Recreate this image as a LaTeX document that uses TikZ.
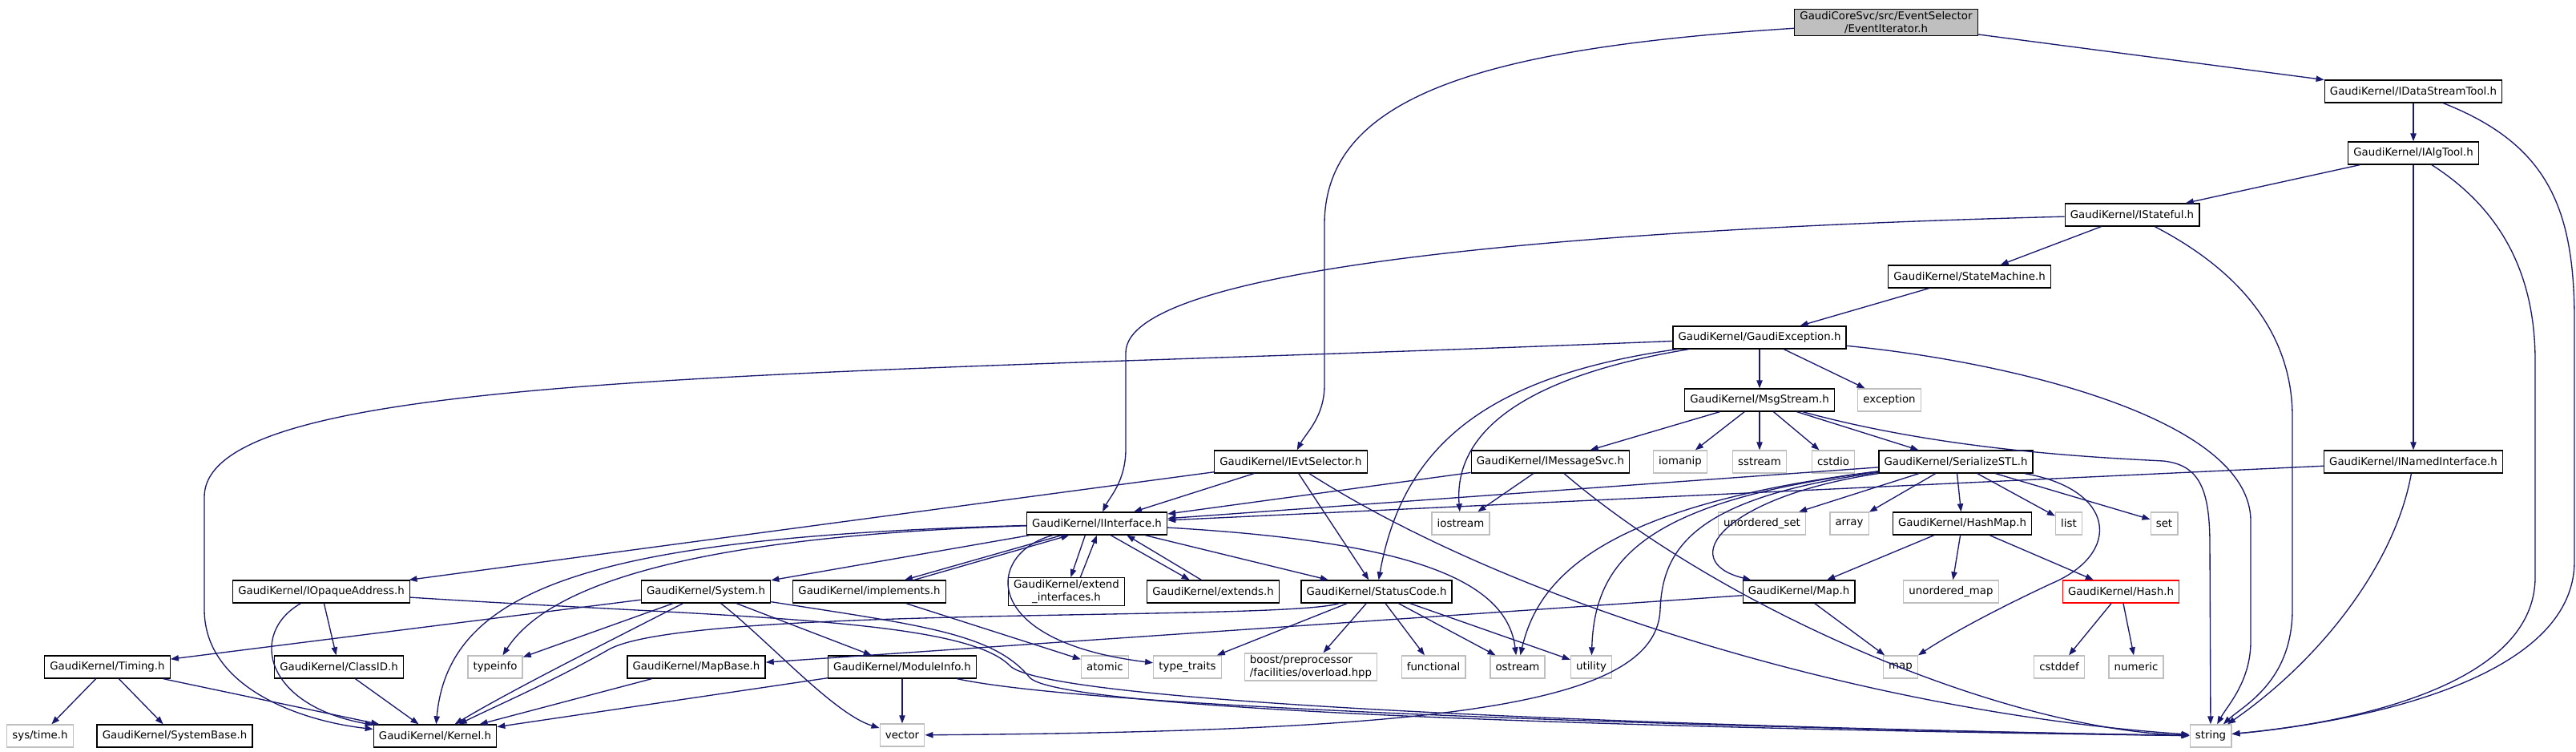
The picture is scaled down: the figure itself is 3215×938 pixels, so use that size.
\documentclass[tikz,border=0pt]{standalone}
\usepackage{fontspec}
\setmainfont{DejaVu Sans}
\usetikzlibrary{arrows.meta}
\definecolor{edgeblue}{HTML}{191970}
\definecolor{lgray}{HTML}{BFBFBF}
\begin{document}
\begin{tikzpicture}[x=0.75pt, y=-0.75pt, every node/.style={font=\fontsize{10}{12}\selectfont}]
  \tikzstyle{hdr}=[draw,fill=white,line width=1pt,inner xsep=5pt,inner ysep=2pt,minimum height=21pt,align=center]
  \tikzstyle{syshdr}=[hdr,draw=lgray]
  \tikzstyle{curhdr}=[hdr,fill=lgray]
  \tikzstyle{redhdr}=[hdr,draw=red]
  \tikzstyle{dep}=[draw=edgeblue,line width=1pt,-{Triangle[length=7.5pt,width=5.5pt]}]
  \useasboundingbox (0,0) rectangle (3215,938);
  % rows, top to bottom
  \node[curhdr] (evit) at (2354,28) {GaudiCoreSvc/src/EventSelector\\/EventIterator.h};
  \node[hdr] (idst) at (3012,114) {GaudiKernel/IDataStreamTool.h};
  \node[hdr] (ialg) at (3012,191) {GaudiKernel/IAlgTool.h};
  \node[hdr] (istf) at (2661,268) {GaudiKernel/IStateful.h};
  \node[hdr] (stm) at (2458,345) {GaudiKernel/StateMachine.h};
  \node[hdr] (gexc) at (2196,421) {GaudiKernel/GaudiException.h};
  \node[hdr] (msgs) at (2196,499) {GaudiKernel/MsgStream.h};
  \node[syshdr] (exc) at (2358,499) {exception};
  \node[hdr] (ievt) at (1611,576) {GaudiKernel/IEvtSelector.h};
  \node[hdr] (imsg) at (1935,576) {GaudiKernel/IMessageSvc.h};
  \node[syshdr] (iomanip) at (2097,576) {iomanip};
  \node[syshdr] (sstream) at (2196,576) {sstream};
  \node[syshdr] (cstdio) at (2288,576) {cstdio};
  \node[hdr] (sstl) at (2441,576) {GaudiKernel/SerializeSTL.h};
  \node[hdr] (inam) at (3012,576) {GaudiKernel/INamedInterface.h};
  \node[hdr] (iint) at (1369,653) {GaudiKernel/IInterface.h};
  \node[syshdr] (iostream) at (1823,653) {iostream};
  \node[syshdr] (uset) at (2199,653) {unordered\_set};
  \node[syshdr] (array) at (2308,653) {array};
  \node[hdr] (hmap) at (2449,653) {GaudiKernel/HashMap.h};
  \node[syshdr] (list) at (2582,653) {list};
  \node[syshdr] (set) at (2701,653) {set};
  \node[hdr] (iopq) at (401,738) {GaudiKernel/IOpaqueAddress.h};
  \node[hdr] (systm) at (881,738) {GaudiKernel/System.h};
  \node[hdr] (impl) at (1085,738) {GaudiKernel/implements.h};
  \node[hdr] (extif) at (1331,738) {GaudiKernel/extend\\\_interfaces.h};
  \node[hdr] (exts) at (1514,738) {GaudiKernel/extends.h};
  \node[hdr] (stc) at (1718,738) {GaudiKernel/StatusCode.h};
  \node[hdr] (gmap) at (2245,738) {GaudiKernel/Map.h};
  \node[syshdr] (umap) at (2435,738) {unordered\_map};
  \node[redhdr] (hash) at (2647,738) {GaudiKernel/Hash.h};
  \node[hdr] (timing) at (134,832) {GaudiKernel/Timing.h};
  \node[hdr] (clid) at (423,832) {GaudiKernel/ClassID.h};
  \node[syshdr] (typeinfo) at (618,832) {typeinfo};
  \node[hdr] (mapb) at (869,832) {GaudiKernel/MapBase.h};
  \node[hdr] (modinfo) at (1126,832) {GaudiKernel/ModuleInfo.h};
  \node[syshdr] (atomic) at (1379,832) {atomic};
  \node[syshdr] (ttraits) at (1482,832) {type\_traits};
  \node[syshdr,align=left] (boost) at (1636,832) {boost/preprocessor\\/facilities/overload.hpp};
  \node[syshdr] (functional) at (1789,832) {functional};
  \node[syshdr] (ostream) at (1894,832) {ostream};
  \node[syshdr] (utility) at (1986,832) {utility};
  \node[syshdr] (map) at (2372,832) {map};
  \node[syshdr] (cstddef) at (2570,832) {cstddef};
  \node[syshdr] (numeric) at (2666,832) {numeric};
  \node[syshdr] (systime) at (50,918) {sys/time.h};
  \node[hdr] (sysbase) at (218,918) {GaudiKernel/SystemBase.h};
  \node[hdr] (kernel) at (543,918) {GaudiKernel/Kernel.h};
  \node[syshdr] (vector) at (1126,917) {vector};
  \node[syshdr] (string) at (2759,918) {string};
  % straight includes
  \draw[dep] (evit) -- (idst);
  \draw[dep] (idst) -- (ialg);
  \draw[dep] (ialg) -- (istf);
  \draw[dep] (ialg) -- (inam);
  \draw[dep] (istf) -- (stm);
  \draw[dep] (stm) -- (gexc);
  \draw[dep] (gexc) -- (msgs);
  \draw[dep] (gexc) -- (exc);
  \draw[dep] (msgs) -- (imsg);
  \draw[dep] (msgs) -- (iomanip);
  \draw[dep] (msgs) -- (sstream);
  \draw[dep] (msgs) -- (cstdio);
  \draw[dep] (msgs) -- (sstl);
  \draw[dep] (ievt) -- (iint);
  \draw[dep] (ievt) -- (iopq);
  \draw[dep] (ievt) -- (stc);
  \draw[dep] (imsg) -- (iint);
  \draw[dep] (imsg) -- (iostream);
  \draw[dep] (inam) -- (iint);
  \draw[dep] (sstl) -- (iint);
  \draw[dep] (sstl) -- (uset);
  \draw[dep] (sstl) -- (array);
  \draw[dep] (sstl) -- (hmap);
  \draw[dep] (sstl) -- (list);
  \draw[dep] (sstl) -- (set);
  \draw[dep] (hmap) -- (gmap);
  \draw[dep] (hmap) -- (umap);
  \draw[dep] (hmap) -- (hash);
  \draw[dep] (hash) -- (cstddef);
  \draw[dep] (hash) -- (numeric);
  \draw[dep] (gmap) -- (map);
  \draw[dep] (gmap) -- (mapb);
  \draw[dep] (iint) -- (systm);
  \draw[dep] (iint) -- (stc);
  \draw[dep] ([xshift=-33pt]iint.south) -- ([xshift=33pt]impl.north);
  \draw[dep] ([xshift=42pt]impl.north) -- ([xshift=-26pt]iint.south);
  \draw[dep] ([xshift=-11pt]iint.south) -- ([xshift=4pt]extif.north);
  \draw[dep] ([xshift=13pt]extif.north) -- (iint.south);
  \draw[dep] ([xshift=13pt]iint.south) -- ([xshift=-22pt]exts.north);
  \draw[dep] ([xshift=-11pt]exts.north) -- ([xshift=28pt]iint.south);
  \draw[dep] (impl) -- (atomic);
  \draw[dep] (systm) -- (timing);
  \draw[dep] (systm) -- (typeinfo);
  \draw[dep] (systm) -- (modinfo);
  \draw[dep] (stc) -- (ttraits);
  \draw[dep] (stc) -- (boost);
  \draw[dep] (stc) -- (functional);
  \draw[dep] (stc) -- (ostream);
  \draw[dep] (stc) -- (utility);
  \draw[dep] (iopq) -- (clid);
  \draw[dep] (timing) -- (systime);
  \draw[dep] (timing) -- (sysbase);
  \draw[dep] (timing) -- (kernel);
  \draw[dep] (clid) -- (kernel);
  \draw[dep] (mapb) -- (kernel);
  \draw[dep] (modinfo) -- (kernel);
  \draw[dep] (modinfo) -- (vector);
  % long curved includes
  \draw[dep] (evit) .. controls (1850,60) and (1653,120) .. (1653,280) -- (1653,480) .. controls (1653,520) and (1630,540) .. (ievt);
  \draw[dep] (idst) .. controls (3180,180) and (3213,260) .. (3213,400) -- (3213,700) .. controls (3213,860) and (2900,905) .. (string);
  \draw[dep] (ialg) .. controls (3120,260) and (3164,340) .. (3164,450) -- (3164,720) .. controls (3164,850) and (2950,900) .. (string);
  \draw[dep] (istf) .. controls (2800,340) and (2861,420) .. (2861,520) -- (2861,760) .. controls (2861,850) and (2800,880) .. (string);
  \draw[dep] (istf) .. controls (2000,285) and (1405,330) .. (1405,440) -- (1405,560) .. controls (1405,600) and (1385,620) .. (iint);
  \draw[dep] (inam) .. controls (2990,700) and (2900,820) .. (string);
  \draw[dep] (gexc) .. controls (2500,450) and (2809,520) .. (2809,650) -- (2809,800) .. controls (2809,850) and (2780,880) .. (string);
  \draw[dep] (gexc) .. controls (1000,470) and (255,460) .. (255,620) -- (255,760) .. controls (255,860) and (380,900) .. (kernel);
  \draw[dep] (gexc) .. controls (1900,470) and (1814,540) .. (iostream);
  \draw[dep] (gexc) .. controls (1850,470) and (1750,560) .. (stc);
  \draw[dep] (msgs) .. controls (2420,560) and (2600,570) .. (2700,575) .. controls (2745,580) and (2758,610) .. (2758,680) -- (string);
  \draw[dep] (ievt) .. controls (1900,760) and (2350,890) .. (string);
  \draw[dep] (imsg) .. controls (2150,760) and (2500,910) .. (string);
  \draw[dep] (iopq) .. controls (900,770) and (1200,770) .. (1260,830) .. controls (1300,875) and (2000,905) .. (string);
  \draw[dep] (systm) .. controls (1150,780) and (1240,790) .. (1285,845) .. controls (1320,885) and (2000,908) .. (string);
  \draw[dep] (modinfo) .. controls (1350,880) and (2000,905) .. (string);
  \draw[dep] (systm) .. controls (760,800) and (640,860) .. (kernel);
  \draw[dep] (systm) .. controls (960,800) and (1040,890) .. (vector);
  \draw[dep] (stc) .. controls (1600,775) and (860,755) .. (760,810) .. controls (690,850) and (620,880) .. (kernel);
  \draw[dep] (iint) .. controls (750,670) and (560,730) .. (kernel);
  \draw[dep] (iint) .. controls (900,668) and (690,720) .. (typeinfo);
  \draw[dep] (iint) .. controls (1750,675) and (1880,720) .. (ostream);
  \draw[dep] (iint) .. controls (1230,690) and (1220,800) .. (ttraits);
  \draw[dep] (iopq) .. controls (310,790) and (330,880) .. (kernel);
  \draw[dep] (sstl) .. controls (2640,610) and (2650,690) .. (2560,728) .. controls (2470,770) and (2420,800) .. (map);
  \draw[dep] (sstl) .. controls (2150,620) and (2090,700) .. (gmap);
  \draw[dep] (sstl) .. controls (2120,620) and (2075,680) .. (2072,760) .. controls (2068,880) and (1800,912) .. (vector);
  \draw[dep] (sstl) .. controls (2000,630) and (1920,720) .. (ostream);
  \draw[dep] (sstl) .. controls (2050,625) and (1990,700) .. (utility);
\end{tikzpicture}
\end{document}
